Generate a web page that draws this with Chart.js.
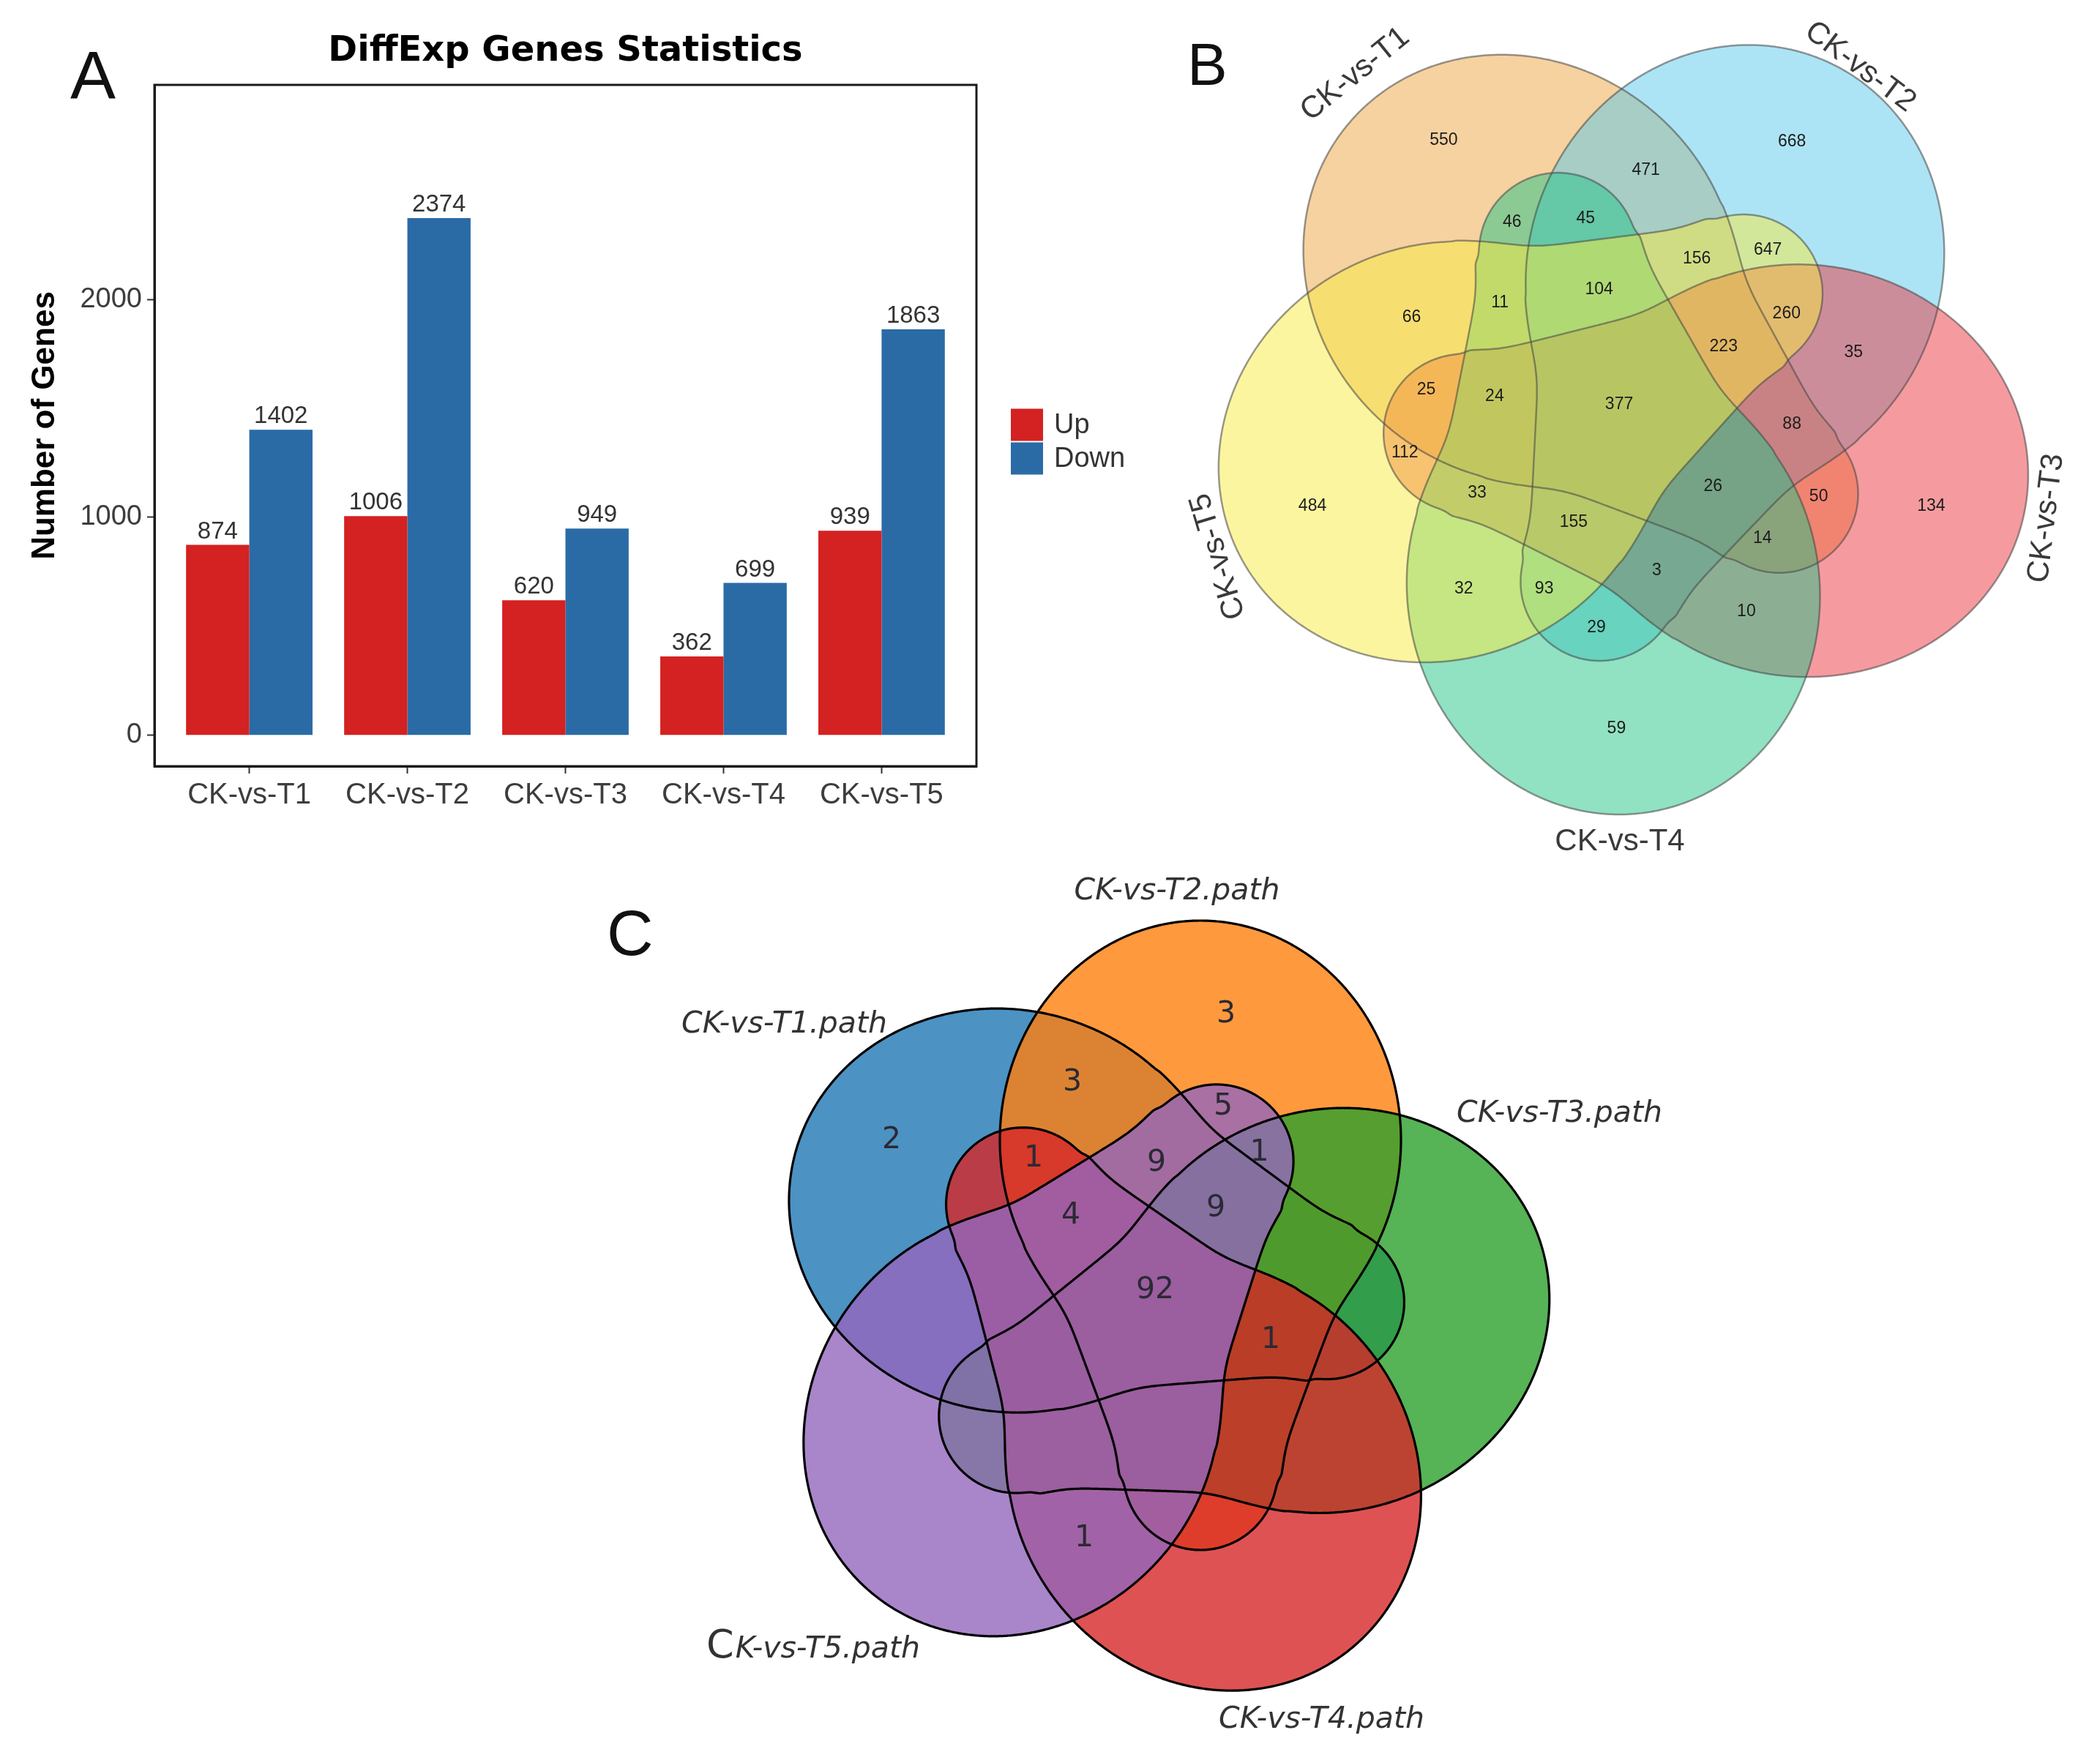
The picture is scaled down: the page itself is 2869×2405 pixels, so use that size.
<!DOCTYPE html>
<html>
<head>
<meta charset="utf-8">
<title>DiffExp Genes Statistics and Venn diagrams</title>
<script src="https://cdn.jsdelivr.net/npm/chart.js@4.4.1/dist/chart.umd.min.js"></script>
<style>
  html, body { margin:0; padding:0; background:#ffffff; }
  body { position:relative; width:2869px; height:2405px; overflow:hidden; }
  canvas { position:absolute; }
  .panel { position:absolute; font-family:'Liberation Sans', Arial, sans-serif; color:#111; line-height:1; z-index:5; }
</style>
</head>
<body>
<canvas id="chartA" width="1544" height="1180" style="left:0px;top:0px;width:1544px;height:1180px"></canvas>
<canvas id="chartB" width="1279" height="1200" style="left:1590px;top:0px;width:1279px;height:1200px"></canvas>
<canvas id="chartC" width="1400" height="1235" style="left:900px;top:1170px;width:1400px;height:1235px"></canvas>
<div class="panel" style="left:96px;top:57px;font-size:93px">A</div>
<div class="panel" style="left:1622px;top:47px;font-size:82px">B</div>
<div class="panel" style="left:829px;top:1231px;font-size:88px">C</div>
<script>
// ================= DATA =================
// Panel A: DiffExp genes
const chartTitleA = 'DiffExp Genes Statistics';
const categories = ['CK-vs-T1', 'CK-vs-T2', 'CK-vs-T3', 'CK-vs-T4', 'CK-vs-T5'];
const upCounts   = [874, 1006, 620, 362, 939];
const downCounts = [1402, 2374, 949, 699, 1863];
const seriesNames = ['Up', 'Down'];
const yTickValues = [0, 1000, 2000];

// Panel B: five-set Venn of DEGs (region counts)
const setNamesB = ['CK-vs-T1', 'CK-vs-T2', 'CK-vs-T3', 'CK-vs-T4', 'CK-vs-T5'];
const regionCountsB = [550, 668, 471, 46, 45, 156, 647, 66, 11, 104, 260, 35, 223, 25, 24, 377,
                       88, 112, 26, 50, 134, 484, 33, 155, 14, 3, 32, 93, 29, 10, 59];

// Panel C: five-set Venn of pathways (region counts)
const setNamesC = ['CK-vs-T1.path', 'CK-vs-T2.path', 'CK-vs-T3.path', 'CK-vs-T4.path', 'CK-vs-T5.path'];
const regionCountsC = [2, 3, 3, 1, 5, 9, 1, 4, 9, 92, 1, 1];

// ================= LAYOUT / STYLE (geometry, not data) =================
// Each set outline: broad far-end ellipse + neck + small near-end circle (local axis u, half-width w)
function profileScaled(f) {
  return { L: 0.43 * f, uf: 0.130 * f, af: 0.300 * f, bf: 0.274 * f,
           c2: -0.325 * f, r2: 0.105 * f,
           nu0: -0.330 * f, nw0: 0.100 * f, nu1: -0.072 * f, nw1: 0.196 * f,
           nlo: -0.375 * f, nhi: 0.03 * f, fade: 0.05 * f, soft: 0.011 * f };
}
const profB = profileScaled(1.0498);
const profC = profileScaled(1.0);

const layoutB = {
  xRange: [-0.6317, 0.6748], yRange: [-0.5645, 0.6614],
  shapes: [
    {cx:-0.0305, cy:-0.0989, angle:-139.0, prof: profB},
    {cx: 0.1114, cy:-0.0656, angle:-66.7, prof: profB},
    {cx: 0.1243, cy: 0.0776, angle:6.3, prof: profB},
    {cx:-0.0264, cy: 0.1236, angle:80.7, prof: profB},
    {cx:-0.1250, cy: 0.0032, angle:152.4, prof: profB}
  ],
  fills: ['rgba(235,165,65,0.5)', 'rgba(91,201,235,0.5)', 'rgba(235,55,65,0.5)',
          'rgba(35,195,135,0.5)', 'rgba(249,235,65,0.5)'],
  stroke: 'rgba(70,70,70,0.55)', lineWidth: 2.5,
  regionPos: [[-0.2411,-0.3682],[0.2449,-0.3664],[0.0411,-0.3271],[-0.1458,-0.2542],[-0.0430,-0.2598],
              [0.1121,-0.2037],[0.2112,-0.2150],[-0.2860,-0.1215],[-0.1626,-0.1421],[-0.0243,-0.1607],
              [0.2374,-0.1271],[0.3308,-0.0729],[0.1495,-0.0804],[-0.2654,-0.0206],[-0.1701,-0.0112],
              [0.0037,0.0000],[0.2449,0.0280],[-0.2953,0.0673],[0.1346,0.1140],[0.2822,0.1290],
              [0.4393,0.1421],[-0.4243,0.1421],[-0.1944,0.1234],[-0.0598,0.1645],[0.2037,0.1869],
              [0.0561,0.2318],[-0.2131,0.2579],[-0.1009,0.2579],[-0.0280,0.3121],[0.1813,0.2897],[0.0000,0.4523]],
  regionFont: '23px "Liberation Sans"', regionColor: '#1c1c1c',
  namePos: [{x:-0.3645, y:-0.4607, rot:-39, align:'center'},
            {x: 0.3400, y:-0.4710, rot: 37, align:'center'},
            {x: 0.6000, y: 0.1590, rot:-83, align:'center'},
            {x: 0.0047, y: 0.6103, rot:  0, align:'center'},
            {x:-0.5557, y: 0.2120, rot:-106.6, align:'center'}],
  nameFont: '42px "Liberation Sans"', nameColor: '#3a3a3a'
};

const layoutC = {
  xRange: [-0.6576, 0.7424], yRange: [-0.6084, 0.6266],
  shapes: [
    {cx:-0.0566, cy:-0.0884, angle:-164, prof: profC},
    {cx: 0.0824, cy:-0.0904, angle:-90, prof: profC},
    {cx: 0.1384, cy: 0.0536, angle:-18.5, prof: profC},
    {cx: 0.0264, cy: 0.1336, angle:55, prof: profC},
    {cx:-0.0956, cy: 0.0646, angle:128, prof: profC}
  ],
  fills: ['rgba(31,119,180,0.8)', 'rgba(255,127,14,0.8)', 'rgba(44,160,44,0.8)',
          'rgba(214,39,40,0.8)', 'rgba(148,103,189,0.8)'],
  stroke: '#000000', lineWidth: 3.2,
  regionPos: [[-0.3396,-0.2204],[-0.0926,-0.2994],[0.1174,-0.3924],[-0.1456,-0.1954],
              [0.1134,-0.2664],[0.0224,-0.1889],[0.1630,-0.2028],[-0.0946,-0.1174],
              [0.1034,-0.1274],[0.0204,-0.0154],[0.1784,0.0526],[-0.0766,0.3236]],
  regionFont: '41px "DejaVu Sans"', regionColor: '#2a2a33',
  namePos: [{x:-0.3456, y:-0.3784, rot:0, align:'right'},
            {x: 0.0504, y:-0.5604, rot:0, align:'center'},
            {x: 0.4324, y:-0.2564, rot:0, align:'left'},
            {x: 0.1074, y: 0.5716, rot:0, align:'left'},
            {x:-0.3006, y: 0.4716, rot:0, align:'right', bigInitial:true}],
  nameFont: 'italic 41px "DejaVu Sans"', nameSize: 41, initialFont: '54px "DejaVu Sans"', nameColor: '#333333'
};

const barColors = ['#D42121', '#2A6BA6'];

// ================= PANEL A =================
const panelBoxPlugin = {
  id: 'panelBox',
  afterDraw(chart) {
    const {ctx, chartArea: a} = chart;
    ctx.save();
    ctx.strokeStyle = '#1a1a1a';
    ctx.lineWidth = 3;
    ctx.strokeRect(a.left, a.top, a.right - a.left, a.bottom - a.top);
    ctx.restore();
  }
};

const centeredTitlePlugin = {
  id: 'centeredTitle',
  afterDraw(chart) {
    const {ctx, chartArea: a} = chart;
    ctx.save();
    ctx.font = 'bold 48px "DejaVu Sans"';
    ctx.fillStyle = '#000000';
    ctx.textAlign = 'center';
    ctx.textBaseline = 'middle';
    ctx.fillText(chartTitleA, (a.left + a.right) / 2, a.top - 45);
    ctx.restore();
  }
};

const barValuePlugin = {
  id: 'barValues',
  afterDatasetsDraw(chart) {
    const ctx = chart.ctx;
    ctx.save();
    ctx.font = '33px "Liberation Sans"';
    ctx.fillStyle = '#333333';
    ctx.textAlign = 'center';
    ctx.textBaseline = 'alphabetic';
    chart.data.datasets.forEach((ds, d) => {
      chart.getDatasetMeta(d).data.forEach((bar, i) => {
        ctx.fillText(String(ds.data[i].y), bar.x, bar.y - 9);
      });
    });
    ctx.restore();
  }
};

const sideLegendPlugin = {
  id: 'sideLegend',
  afterDraw(chart) {
    const {ctx, chartArea: a} = chart;
    const keyW = 44, keyH = 46;
    const x0 = a.right + 47;
    const y0 = (a.top + a.bottom) / 2 - keyH + 22;
    ctx.save();
    ctx.font = '38px "Liberation Sans"';
    ctx.textAlign = 'left';
    ctx.textBaseline = 'middle';
    chart.data.datasets.forEach((ds, i) => {
      const y = y0 + i * keyH;
      ctx.fillStyle = ds.backgroundColor;
      ctx.fillRect(x0, y + 1, keyW, keyH - 2);
      ctx.fillStyle = '#333333';
      ctx.fillText(ds.label, x0 + keyW + 15, y + keyH / 2 + 1);
    });
    ctx.restore();
  }
};

new Chart(document.getElementById('chartA'), {
  type: 'bar',
  data: {
    datasets: [
      { label: seriesNames[0], data: upCounts.map((v, i) => ({x: i + 1, y: v})),
        backgroundColor: barColors[0], borderWidth: 0, categoryPercentage: 0.8, barPercentage: 1.0 },
      { label: seriesNames[1], data: downCounts.map((v, i) => ({x: i + 1, y: v})),
        backgroundColor: barColors[1], borderWidth: 0, categoryPercentage: 0.8, barPercentage: 1.0 }
    ]
  },
  options: {
    responsive: false, animation: false, events: [], devicePixelRatio: 1,
    layout: { padding: { left: 0, right: 210, top: 116, bottom: 0 } },
    plugins: { legend: { display: false }, tooltip: { enabled: false }, title: { display: false } },
    scales: {
      x: {
        type: 'linear', min: 0.4, max: 5.6, offset: false,
        afterBuildTicks: s => { s.ticks = categories.map((c, i) => ({ value: i + 1 })); },
        afterFit: s => { s.height = 133; },
        ticks: { callback: v => categories[Math.round(v) - 1] || '', autoSkip: false, maxRotation: 0,
                 font: { family: 'Liberation Sans', size: 40 }, color: '#3d3d3d', padding: 6 },
        grid: { offset: false, drawOnChartArea: false, drawTicks: true, tickLength: 10, tickWidth: 2, tickColor: '#333333' },
        border: { display: true, width: 3, color: '#1a1a1a' }
      },
      y: {
        type: 'linear', min: -142, max: 2985,
        afterBuildTicks: s => { s.ticks = yTickValues.map(v => ({ value: v })); },
        afterFit: s => { s.width = 211; },
        ticks: { callback: v => String(v), font: { family: 'Liberation Sans', size: 38 }, color: '#3d3d3d', padding: 7 },
        grid: { drawOnChartArea: false, drawTicks: true, tickLength: 10, tickWidth: 2, tickColor: '#333333' },
        border: { display: true, width: 3, color: '#1a1a1a' },
        title: { display: true, text: 'Number of Genes', color: '#000000',
                 font: { family: 'Liberation Sans', size: 44, weight: 'bold' }, padding: { top: 35, bottom: 0 } }
      }
    }
  },
  plugins: [panelBoxPlugin, centeredTitlePlugin, barValuePlugin, sideLegendPlugin]
});

// ================= VENN PANELS (B, C) =================
function smoothStep(x) { const t = Math.min(1, Math.max(0, x)); return t * t * (3 - 2 * t); }

function halfWidth(p, u) {
  const t = (u - p.uf) / p.af;
  const wf = t * t < 1 ? p.bf * Math.sqrt(1 - t * t) : 0;
  const d = u - p.c2;
  const wn = d * d < p.r2 * p.r2 ? Math.sqrt(p.r2 * p.r2 - d * d) : 0;
  const line = p.nw0 + (u - p.nu0) * (p.nw1 - p.nw0) / (p.nu1 - p.nu0);
  const win = smoothStep((u - p.nlo) / p.fade) * smoothStep((p.nhi - u) / p.fade);
  const wl = Math.max(0, line) * win;
  const k = p.soft;
  const s = Math.exp(wf / k) + Math.exp(wl / k) + Math.exp(wn / k) - 2;
  return k * Math.log(Math.max(1, s));
}

function traceShape(ctx, xs, ys, s) {
  const p = s.prof;
  const th = s.angle * Math.PI / 180, c = Math.cos(th), sn = Math.sin(th);
  const N = 500;
  const pts = [];
  for (let i = 0; i <= N; i++) {
    const u = -p.L * Math.cos(Math.PI * i / N);
    pts.push([u, halfWidth(p, u)]);
  }
  for (let i = N - 1; i > 0; i--) {
    const u = -p.L * Math.cos(Math.PI * i / N);
    pts.push([u, -halfWidth(p, u)]);
  }
  ctx.beginPath();
  pts.forEach(([u, v], i) => {
    const px = xs.getPixelForValue(s.cx + u * c - v * sn);
    const py = ys.getPixelForValue(s.cy + u * sn + v * c);
    if (i === 0) ctx.moveTo(px, py); else ctx.lineTo(px, py);
  });
  ctx.closePath();
}

function makeVennPlugin(id, lay, names, counts) {
  return {
    id: id,
    beforeDatasetsDraw(chart) {
      const {ctx} = chart, xs = chart.scales.x, ys = chart.scales.y;
      ctx.save();
      lay.shapes.forEach((s, i) => { traceShape(ctx, xs, ys, s); ctx.fillStyle = lay.fills[i]; ctx.fill(); });
      ctx.strokeStyle = lay.stroke; ctx.lineWidth = lay.lineWidth; ctx.lineJoin = 'round';
      lay.shapes.forEach(s => { traceShape(ctx, xs, ys, s); ctx.stroke(); });
      ctx.restore();
    },
    afterDatasetsDraw(chart) {
      const {ctx} = chart, xs = chart.scales.x, ys = chart.scales.y;
      ctx.save();
      ctx.font = lay.regionFont; ctx.fillStyle = lay.regionColor;
      ctx.textAlign = 'center'; ctx.textBaseline = 'middle';
      chart.getDatasetMeta(0).data.forEach((pt, i) => ctx.fillText(String(counts[i]), pt.x, pt.y));
      ctx.fillStyle = lay.nameColor;
      names.forEach((name, i) => {
        const p = lay.namePos[i];
        const px = xs.getPixelForValue(p.x), py = ys.getPixelForValue(p.y);
        ctx.save();
        ctx.translate(px, py);
        ctx.rotate(p.rot * Math.PI / 180);
        if (p.bigInitial) {
          const rest = name.slice(1);
          const base = 0.36 * lay.nameSize;
          ctx.textBaseline = 'alphabetic';
          ctx.font = lay.nameFont; ctx.textAlign = 'right';
          ctx.fillText(rest, 0, base);
          const w = ctx.measureText(rest).width;
          ctx.font = lay.initialFont;
          ctx.fillText(name[0], -w - 2, base);
        } else {
          ctx.font = lay.nameFont; ctx.textAlign = p.align; ctx.textBaseline = 'middle';
          ctx.fillText(name, 0, 0);
        }
        ctx.restore();
      });
      ctx.restore();
    }
  };
}

function vennChart(canvasId, lay, names, counts) {
  return new Chart(document.getElementById(canvasId), {
    type: 'scatter',
    data: { datasets: [{ label: 'regions',
      data: counts.map((v, i) => ({ x: lay.regionPos[i][0], y: lay.regionPos[i][1] })),
      pointRadius: 0, pointHoverRadius: 0, showLine: false }] },
    options: {
      responsive: false, animation: false, events: [], devicePixelRatio: 1,
      layout: { padding: 0, autoPadding: false },
      plugins: { legend: { display: false }, tooltip: { enabled: false } },
      scales: {
        x: { type: 'linear', display: false, min: lay.xRange[0], max: lay.xRange[1] },
        y: { type: 'linear', display: false, reverse: true, min: lay.yRange[0], max: lay.yRange[1] }
      }
    },
    plugins: [makeVennPlugin(canvasId + 'Venn', lay, names, counts)]
  });
}

vennChart('chartB', layoutB, setNamesB, regionCountsB);
vennChart('chartC', layoutC, setNamesC, regionCountsC);
</script>
</body>
</html>
